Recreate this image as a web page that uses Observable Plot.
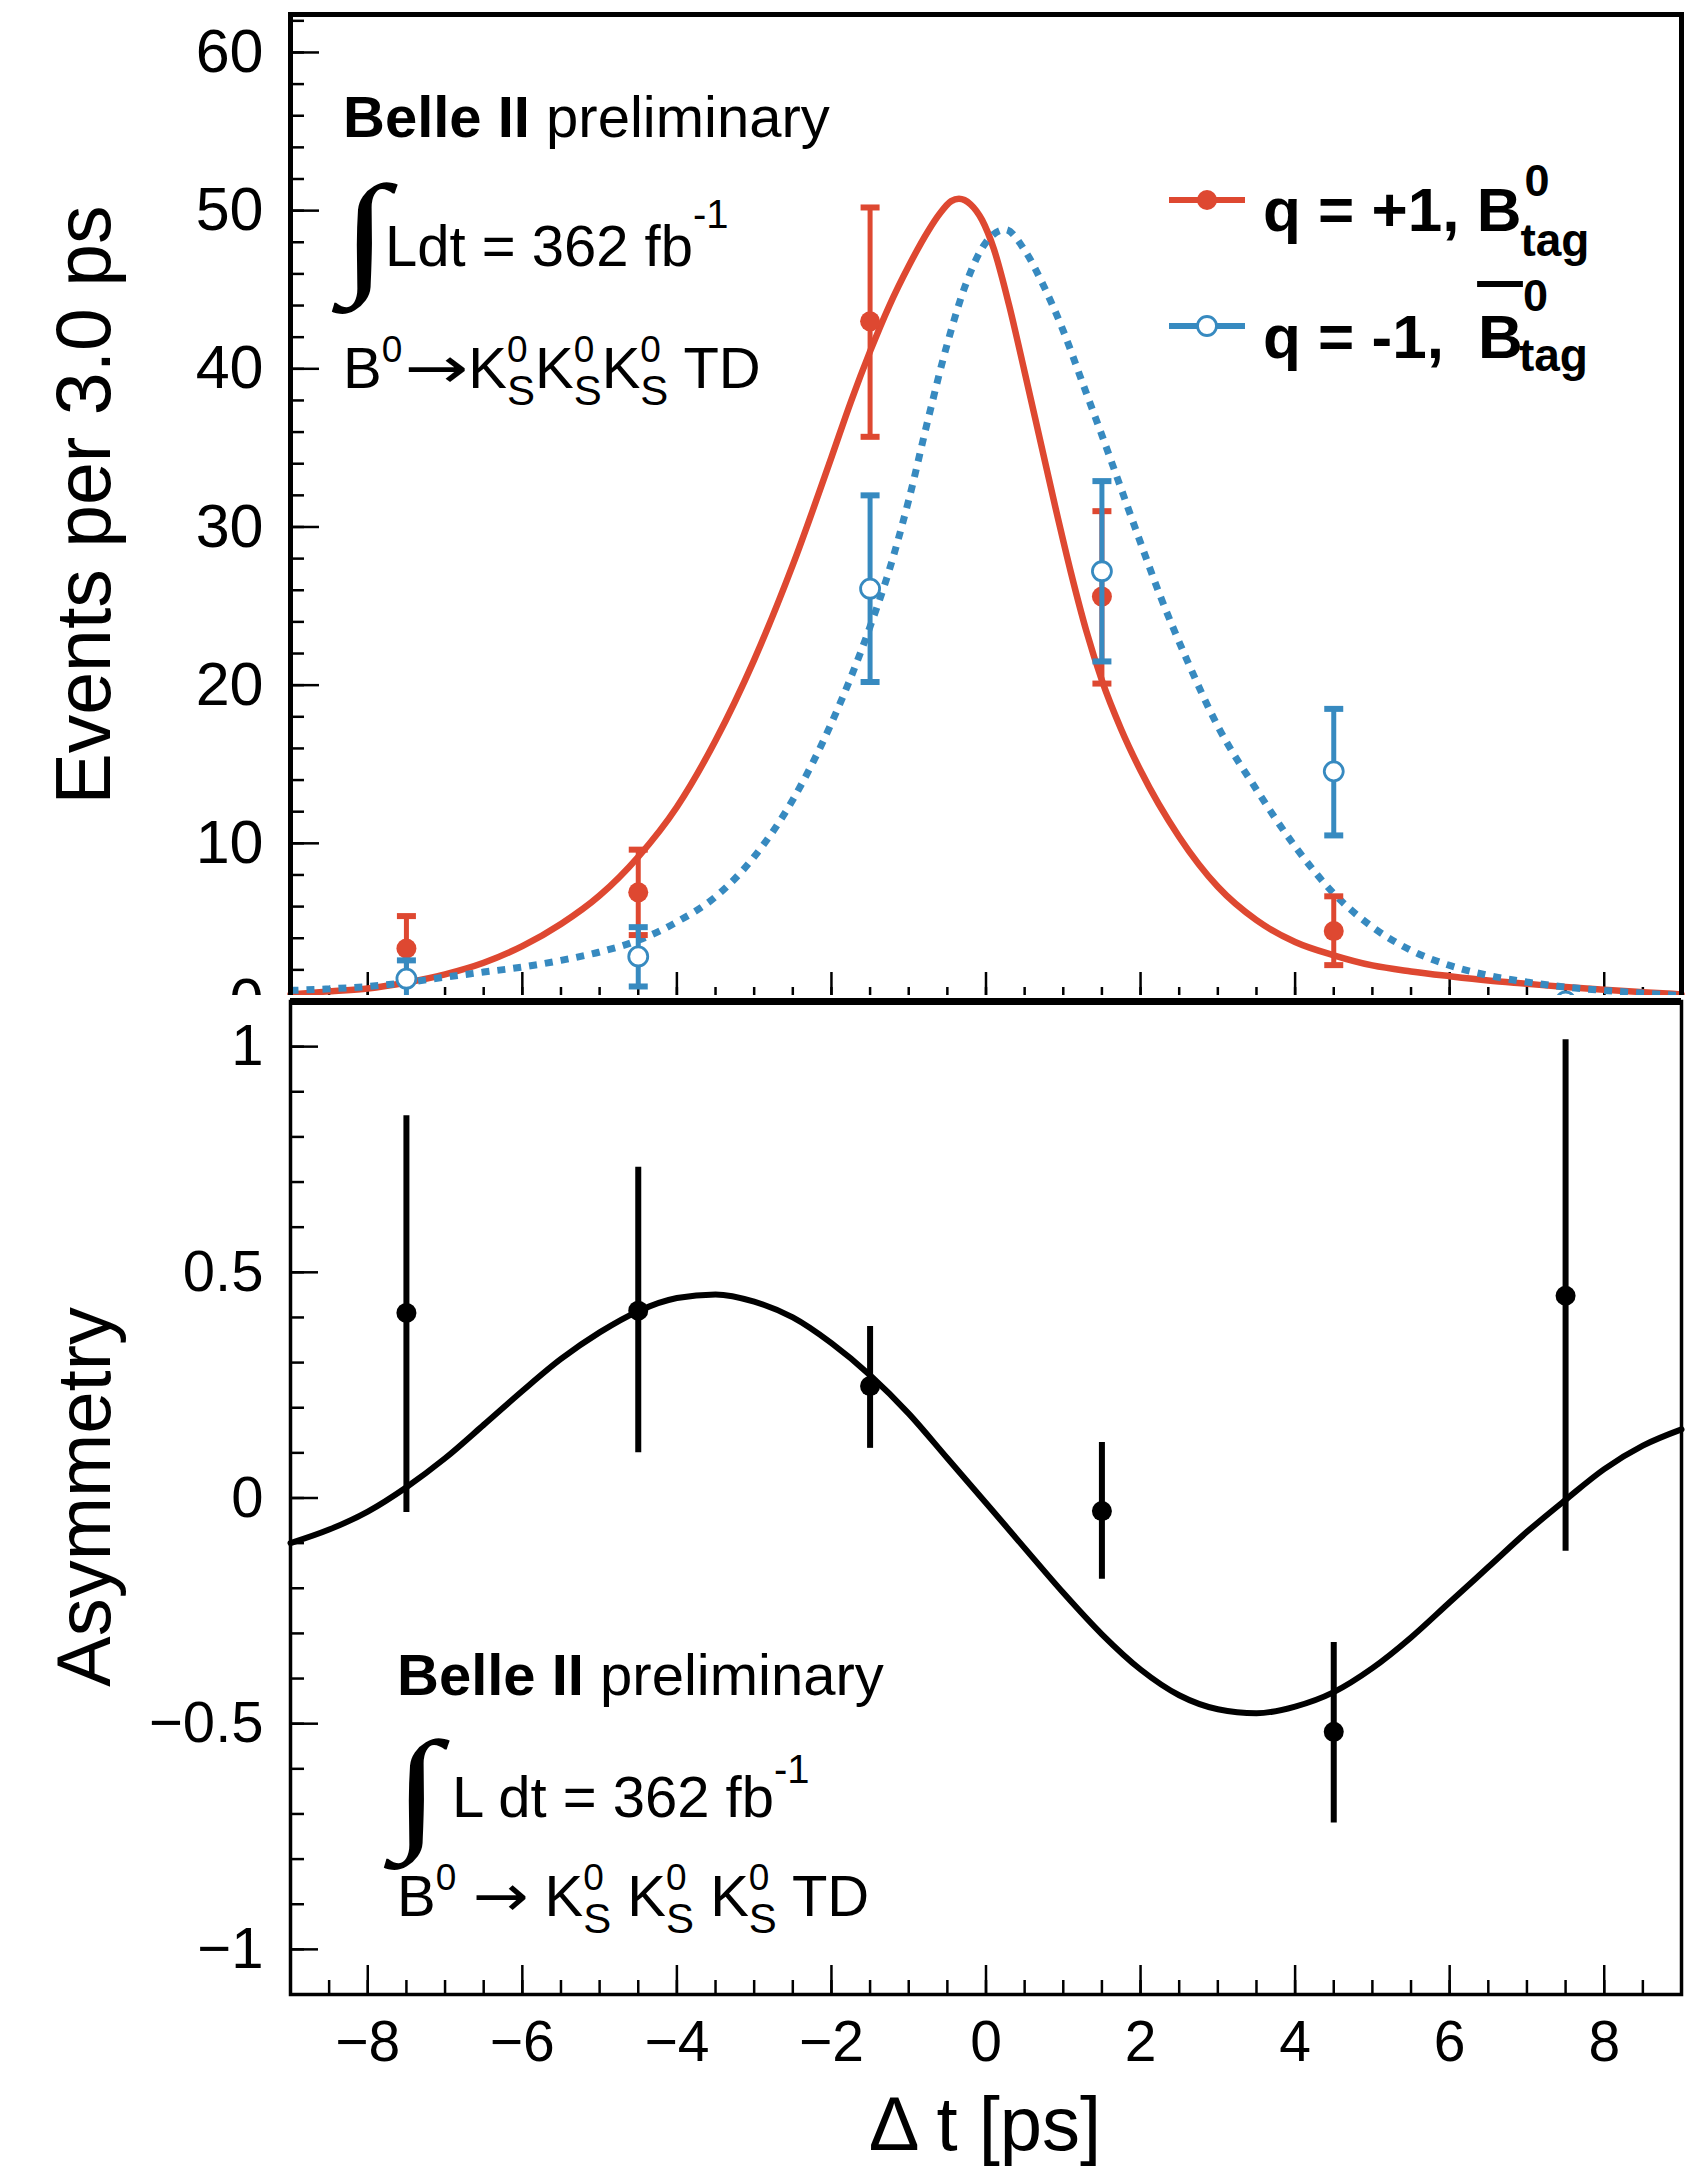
<!DOCTYPE html>
<html>
<head>
<meta charset="utf-8">
<script src="https://cdn.jsdelivr.net/npm/d3@7"></script>
<script src="https://cdn.jsdelivr.net/npm/@observablehq/plot@0.6"></script>
<style>
  html, body { margin: 0; padding: 0; background: #fff; }
  #wrap { position: relative; width: 1706px; height: 2169px; overflow: hidden; background: #fff; }
  #wrap > svg { position: absolute; left: 0; }
  #ov text { white-space: pre; }
</style>
</head>
<body>
<div id="wrap"></div>
<script>
// ---------------- data ----------------
const binCenters = [-7.5, -4.5, -1.5, 1.5, 4.5, 7.5];

// q = +1 (B0 tag), filled red points
const plusVal = [3.35, 6.9, 43.0, 25.6, 4.45, 0];
const plusHi  = [5.4, 9.6, 50.2, 31.0, 6.65, 0];
const plusLo  = [1.5, 4.2, 35.7, 20.1, 2.3, 0];

// q = -1 (anti-B0 tag), open blue points
const minusVal = [1.44, 2.85, 26.1, 27.2, 14.55, 0];
const minusHi  = [2.6, 4.7, 32.0, 32.9, 18.5, 0];
const minusLo  = [0.17, 0.95, 20.2, 21.5, 10.5, 0];

// fit curves (top panel)
const plusFitT = [-9,-8.5,-8,-7.5,-7,-6.5,-6,-5.5,-5,-4.5,-4,-3.5,-3,-2.5,-2,-1.75,-1.5,-1.25,-1,-0.75,-0.6,-0.45,-0.35,-0.2,-0.05,0.1,0.3,0.5,0.7,0.9,1.1,1.3,1.5,1.75,2,2.5,3,3.5,4,4.5,5,5.5,6,6.5,7,7.5,8,8.5,9];
const plusFitY = [0.45,0.64,0.82,1.2,1.72,2.45,3.5,4.9,6.7,9.15,12.3,16.5,21.6,27.6,34.4,37.9,41.1,44.0,46.5,48.7,49.8,50.6,50.75,50.4,49.4,47.6,44.0,39.8,35.5,31.2,27.1,23.4,20.3,17.2,14.6,10.4,7.25,5.14,3.76,2.92,2.28,1.9,1.6,1.33,1.12,0.91,0.74,0.59,0.45];
const minusFitT = [-9,-8.5,-8,-7.5,-7,-6.5,-6,-5.5,-5,-4.5,-4,-3.5,-3,-2.5,-2,-1.5,-1.25,-1,-0.75,-0.5,-0.25,0,0.25,0.5,0.75,1,1.25,1.5,1.75,2,2.25,2.6,3,3.5,4,4.5,5,5.5,6,6.5,7,7.5,8,8.5,9];
const minusFitY = [0.70,0.80,0.95,1.2,1.54,1.86,2.18,2.6,3.13,3.87,5.03,6.62,9.15,12.75,17.6,23.7,27.3,31.7,36.8,41.6,45.5,48.0,48.8,47.5,45.2,42.4,39.1,35.8,32.4,29.0,25.7,21.6,17.4,13.4,9.8,6.83,4.71,3.23,2.28,1.65,1.23,0.91,0.70,0.53,0.38];

// asymmetry (bottom panel)
const asymVal = [0.41, 0.415, 0.248, -0.029, -0.518, 0.448];
const asymHi  = [0.847, 0.733, 0.38, 0.123, -0.32, 1.015];
const asymLo  = [-0.032, 0.10, 0.11, -0.18, -0.72, -0.118];
const asymFitT = [-9,-8.5,-8,-7.5,-7,-6.5,-6,-5.5,-5,-4.5,-4,-3.5,-3,-2.5,-2,-1.5,-1,-0.5,0,0.5,1,1.5,2,2.5,3,3.5,4,4.5,5,5.5,6,6.5,7,7.5,8,8.5,9];
const asymFitY = [-0.10,-0.07,-0.03,0.024,0.088,0.162,0.237,0.308,0.367,0.414,0.443,0.451,0.435,0.40,0.343,0.272,0.187,0.088,-0.011,-0.111,-0.21,-0.302,-0.380,-0.437,-0.468,-0.477,-0.462,-0.43,-0.377,-0.309,-0.231,-0.153,-0.075,-0.004,0.064,0.116,0.152];

// ticks
const topYTicks = [0, 10, 20, 30, 40, 50, 60];
const topYMinor = d3.range(0, 63, 2);
const asymTicks = [-1, -0.5, 0, 0.5, 1];
const asymMinor = d3.range(-11, 12).map(d => d / 10);
const xTicks = [-8, -6, -4, -2, 0, 2, 4, 6, 8];
const xMinor = d3.range(-18, 19).map(d => d / 2);

// ---------------- style ----------------
const RED = "#de4831", BLUE = "#378ac0";
const FONT = '"Liberation Sans", Arial, Helvetica, sans-serif';
const W = 1706, H = 2169, ML = 290, MR = 25;
const TOP_T = 14, SPLIT = 1001, BOT_B = 1994, SVG2_TOP = 995;
const plotW = W - ML - MR;
const topH = SPLIT - TOP_T, botH = BOT_B - SPLIT;
const fmt = d => (d < 0 ? "\u2212" : "") + Math.abs(d);

const plusPts = binCenters.map((t, i) => ({t, v: plusVal[i], hi: plusHi[i], lo: plusLo[i]}));
const minusPts = binCenters.map((t, i) => ({t, v: minusVal[i], hi: minusHi[i], lo: minusLo[i]}));
const asymPts = binCenters.map((t, i) => ({t, v: asymVal[i], hi: asymHi[i], lo: asymLo[i]}));
const plusFit = plusFitT.map((t, i) => ({t, y: plusFitY[i]}));
const minusFit = minusFitT.map((t, i) => ({t, y: minusFitY[i]}));
const asymFit = asymFitT.map((t, i) => ({t, y: asymFitY[i]}));

const capSymbol = { draw(ctx) { ctx.moveTo(-9.5, 0); ctx.lineTo(9.5, 0); } };

function errMarks(pts, color, open) {
  return [
    Plot.ruleX(pts, {x: "t", y1: "lo", y2: "hi", stroke: color, strokeWidth: 5}),
    Plot.dot(pts, {x: "t", y: "hi", symbol: capSymbol, stroke: color, fill: "none", strokeWidth: 6}),
    Plot.dot(pts, {x: "t", y: "lo", symbol: capSymbol, stroke: color, fill: "none", strokeWidth: 6}),
    open
      ? Plot.dot(pts, {x: "t", y: "v", r: 9.5, fill: "white", stroke: color, strokeWidth: 2.8})
      : Plot.dot(pts, {x: "t", y: "v", r: 10, fill: color, stroke: "none"})
  ];
}

const topPlot = Plot.plot({
  width: W, height: SPLIT + 3,
  marginLeft: ML, marginRight: MR, marginTop: TOP_T, marginBottom: 3,
  x: {domain: [-9, 9], axis: null},
  y: {domain: [0, 62.4], axis: null},
  style: {background: "transparent", fontFamily: FONT, color: "black"},
  marks: [
    Plot.tickY(topYMinor, {y: d => d, stroke: "black", strokeWidth: 2.5, insetRight: plotW - 14}),
    Plot.tickY(topYTicks, {y: d => d, stroke: "black", strokeWidth: 2.5, insetRight: plotW - 29}),
    Plot.tickX(xMinor, {x: d => d, stroke: "black", strokeWidth: 2.5, insetTop: topH - 14}),
    Plot.tickX(xTicks, {x: d => d, stroke: "black", strokeWidth: 2.5, insetTop: topH - 29}),
    Plot.axisY(topYTicks, {anchor: "left", tickSize: 0, tickPadding: 27, fontSize: 61, tickFormat: fmt, label: null}),
    Plot.line(plusFit, {x: "t", y: "y", stroke: RED, strokeWidth: 6.5, curve: "monotone-x"}),
    Plot.line(minusFit, {x: "t", y: "y", stroke: BLUE, strokeWidth: 7, strokeDasharray: "8,8", strokeLinecap: "butt", strokeLinejoin: "miter", curve: "monotone-x"}),
    ...errMarks(plusPts, RED, false),
    ...errMarks(minusPts, BLUE, true),
    Plot.frame({stroke: "black", strokeWidth: 5})
  ]
});

const botPlot = Plot.plot({
  width: W, height: H - SVG2_TOP,
  marginLeft: ML, marginRight: MR, marginTop: SPLIT - SVG2_TOP, marginBottom: H - BOT_B,
  x: {domain: [-9, 9], axis: null},
  y: {domain: [-1.1, 1.1], axis: null},
  style: {background: "white", fontFamily: FONT, color: "black"},
  marks: [
    Plot.tickY(asymMinor, {y: d => d, stroke: "black", strokeWidth: 2.5, insetRight: plotW - 14}),
    Plot.tickY(asymTicks, {y: d => d, stroke: "black", strokeWidth: 2.5, insetRight: plotW - 28}),
    Plot.tickX(xMinor, {x: d => d, stroke: "black", strokeWidth: 2.5, insetTop: botH - 14}),
    Plot.tickX(xTicks, {x: d => d, stroke: "black", strokeWidth: 2.5, insetTop: botH - 29}),
    Plot.axisY(asymTicks, {anchor: "left", tickSize: 0, tickPadding: 27, fontSize: 58, tickFormat: fmt, label: null}),
    Plot.axisX(xTicks, {anchor: "bottom", tickSize: 0, tickPadding: 26, fontSize: 57, tickFormat: fmt, label: null}),
    Plot.line(asymFit, {x: "t", y: "y", stroke: "black", strokeWidth: 6, curve: "monotone-x"}),
    Plot.ruleX(asymPts, {x: "t", y1: "lo", y2: "hi", stroke: "black", strokeWidth: 6}),
    Plot.dot(asymPts, {x: "t", y: "v", r: 10, fill: "black"}),
    Plot.frame({stroke: "black", strokeWidth: 3.5}),
    Plot.ruleY([1.1], {stroke: "black", strokeWidth: 7})
  ]
});

const wrap = document.getElementById("wrap");
topPlot.style.top = "0px";
botPlot.style.top = SVG2_TOP + "px";
wrap.appendChild(topPlot);
wrap.appendChild(botPlot);

// ---------------- overlay texts ----------------
const ov = d3.select(wrap).append("svg").attr("id", "ov")
  .attr("width", W).attr("height", H)
  .style("top", "0px").style("pointer-events", "none")
  .attr("font-family", FONT);

function rich(x, y, parts, base) {
  let cx = x;
  for (const p of parts) {
    const weight = p.bold || base.bold ? "bold" : "normal";
    if (p.t !== undefined) {
      const size = p.size || base.size;
      const el = ov.append("text").attr("font-size", size).attr("font-weight", weight)
        .attr("fill", "black").text(p.t);
      if (p.family) el.attr("font-family", p.family);
      let w = el.node().getComputedTextLength();
      if (p.stretchTo) {
        const sx = p.stretchTo / w;
        el.attr("transform", `translate(${cx},${y - (p.lift || 0)}) scale(${sx},1)`);
        w = p.stretchTo;
      } else {
        el.attr("x", cx).attr("y", y);
      }
      if (p.overline) {
        ov.append("line").attr("x1", cx - 1).attr("x2", cx + w)
          .attr("y1", y - p.overline).attr("y2", y - p.overline)
          .attr("stroke", "black").attr("stroke-width", 6);
      }
      cx += w + (p.gap || 0);
    } else {
      let w = 0;
      const ss = p.size || base.sup;
      if (p.sup !== undefined) {
        const e = ov.append("text").attr("x", cx).attr("y", y - (p.raise ?? base.raise))
          .attr("font-size", ss).attr("font-weight", weight).text(p.sup);
        w = Math.max(w, e.node().getComputedTextLength());
      }
      if (p.sub !== undefined) {
        const e = ov.append("text").attr("x", cx + (p.subDx || 0)).attr("y", y + (p.drop ?? base.drop))
          .attr("font-size", p.subSize || base.sub || ss).attr("font-weight", weight).text(p.sub);
        w = Math.max(w, e.node().getComputedTextLength() + (p.subDx || 0));
      }
      cx += w + (p.gap || 0);
    }
  }
}

function integral(x, y, size) {
  ov.append("text").attr("transform", `translate(${x},${y}) scale(1.3,1)`).attr("font-size", size)
    .attr("font-family", '"Liberation Serif", "DejaVu Serif", serif').text("\u222B");
}

const ARROW_FONT = '"DejaVu Sans", "Liberation Sans", sans-serif';

// top panel annotation
rich(343, 137, [{t: "Belle II", bold: true}, {t: " preliminary"}], {size: 58});
integral(341, 278, 134);
rich(385, 266, [{t: "Ldt = 362 fb"}, {sup: "-1", raise: 38, size: 40}], {size: 58, sup: 40, raise: 38, drop: 18});
rich(343, 388, [
  {t: "B"}, {sup: "0", gap: 2}, {t: "\u2192", family: ARROW_FONT, stretchTo: 64, lift: 0}, {t: "K"}, {sup: "0", sub: "S"},
  {t: "K"}, {sup: "0", sub: "S"}, {t: "K"}, {sup: "0", sub: "S"}, {t: " TD"}
], {size: 58, sup: 37, sub: 42, raise: 26, drop: 17});

// legend
ov.append("line").attr("x1", 1169).attr("x2", 1245).attr("y1", 200).attr("y2", 200).attr("stroke", RED).attr("stroke-width", 6);
ov.append("circle").attr("cx", 1207).attr("cy", 200).attr("r", 10).attr("fill", RED);
ov.append("line").attr("x1", 1169).attr("x2", 1245).attr("y1", 326).attr("y2", 326).attr("stroke", BLUE).attr("stroke-width", 6);
ov.append("circle").attr("cx", 1207).attr("cy", 326).attr("r", 9.5).attr("fill", "white").attr("stroke", BLUE).attr("stroke-width", 2.8);
rich(1263, 231, [{t: "q = +1, B", gap: 3}, {sup: "0", sub: "tag", raise: 35, drop: 25, size: 45, subSize: 46, subDx: -4}], {size: 62, bold: true});
rich(1263, 358, [{t: "q = -1, ", gap: 17}, {t: "B", overline: 74}, {sup: "0", sub: "tag", raise: 47, drop: 13, size: 45, subSize: 46, subDx: -4}], {size: 62, bold: true});

// bottom panel annotation
rich(397, 1695, [{t: "Belle II", bold: true}, {t: " preliminary"}], {size: 58});
integral(393, 1834, 134);
rich(452, 1817, [{t: "L dt = 362 fb"}, {sup: "-1", raise: 34, size: 40}], {size: 58, sup: 40, raise: 34, drop: 18});
rich(397, 1916, [
  {t: "B"}, {sup: "0"}, {t: " "}, {t: "\u2192", family: ARROW_FONT, stretchTo: 56, lift: 0}, {t: " "}, {t: "K"}, {sup: "0", sub: "S"},
  {t: " K"}, {sup: "0", sub: "S"}, {t: " K"}, {sup: "0", sub: "S"}, {t: " TD"}
], {size: 58, sup: 37, sub: 42, raise: 26, drop: 17});

// axis titles
ov.append("text").attr("transform", "translate(110,505) rotate(-90)")
  .attr("text-anchor", "middle").attr("font-size", 77).text("Events per 3.0 ps");
ov.append("text").attr("transform", "translate(110,1497) rotate(-90)")
  .attr("text-anchor", "middle").attr("font-size", 76).text("Asymmetry");
ov.append("text").attr("x", 985).attr("y", 2150)
  .attr("text-anchor", "middle").attr("font-size", 76).text("\u0394 t [ps]");
</script>
</body>
</html>
